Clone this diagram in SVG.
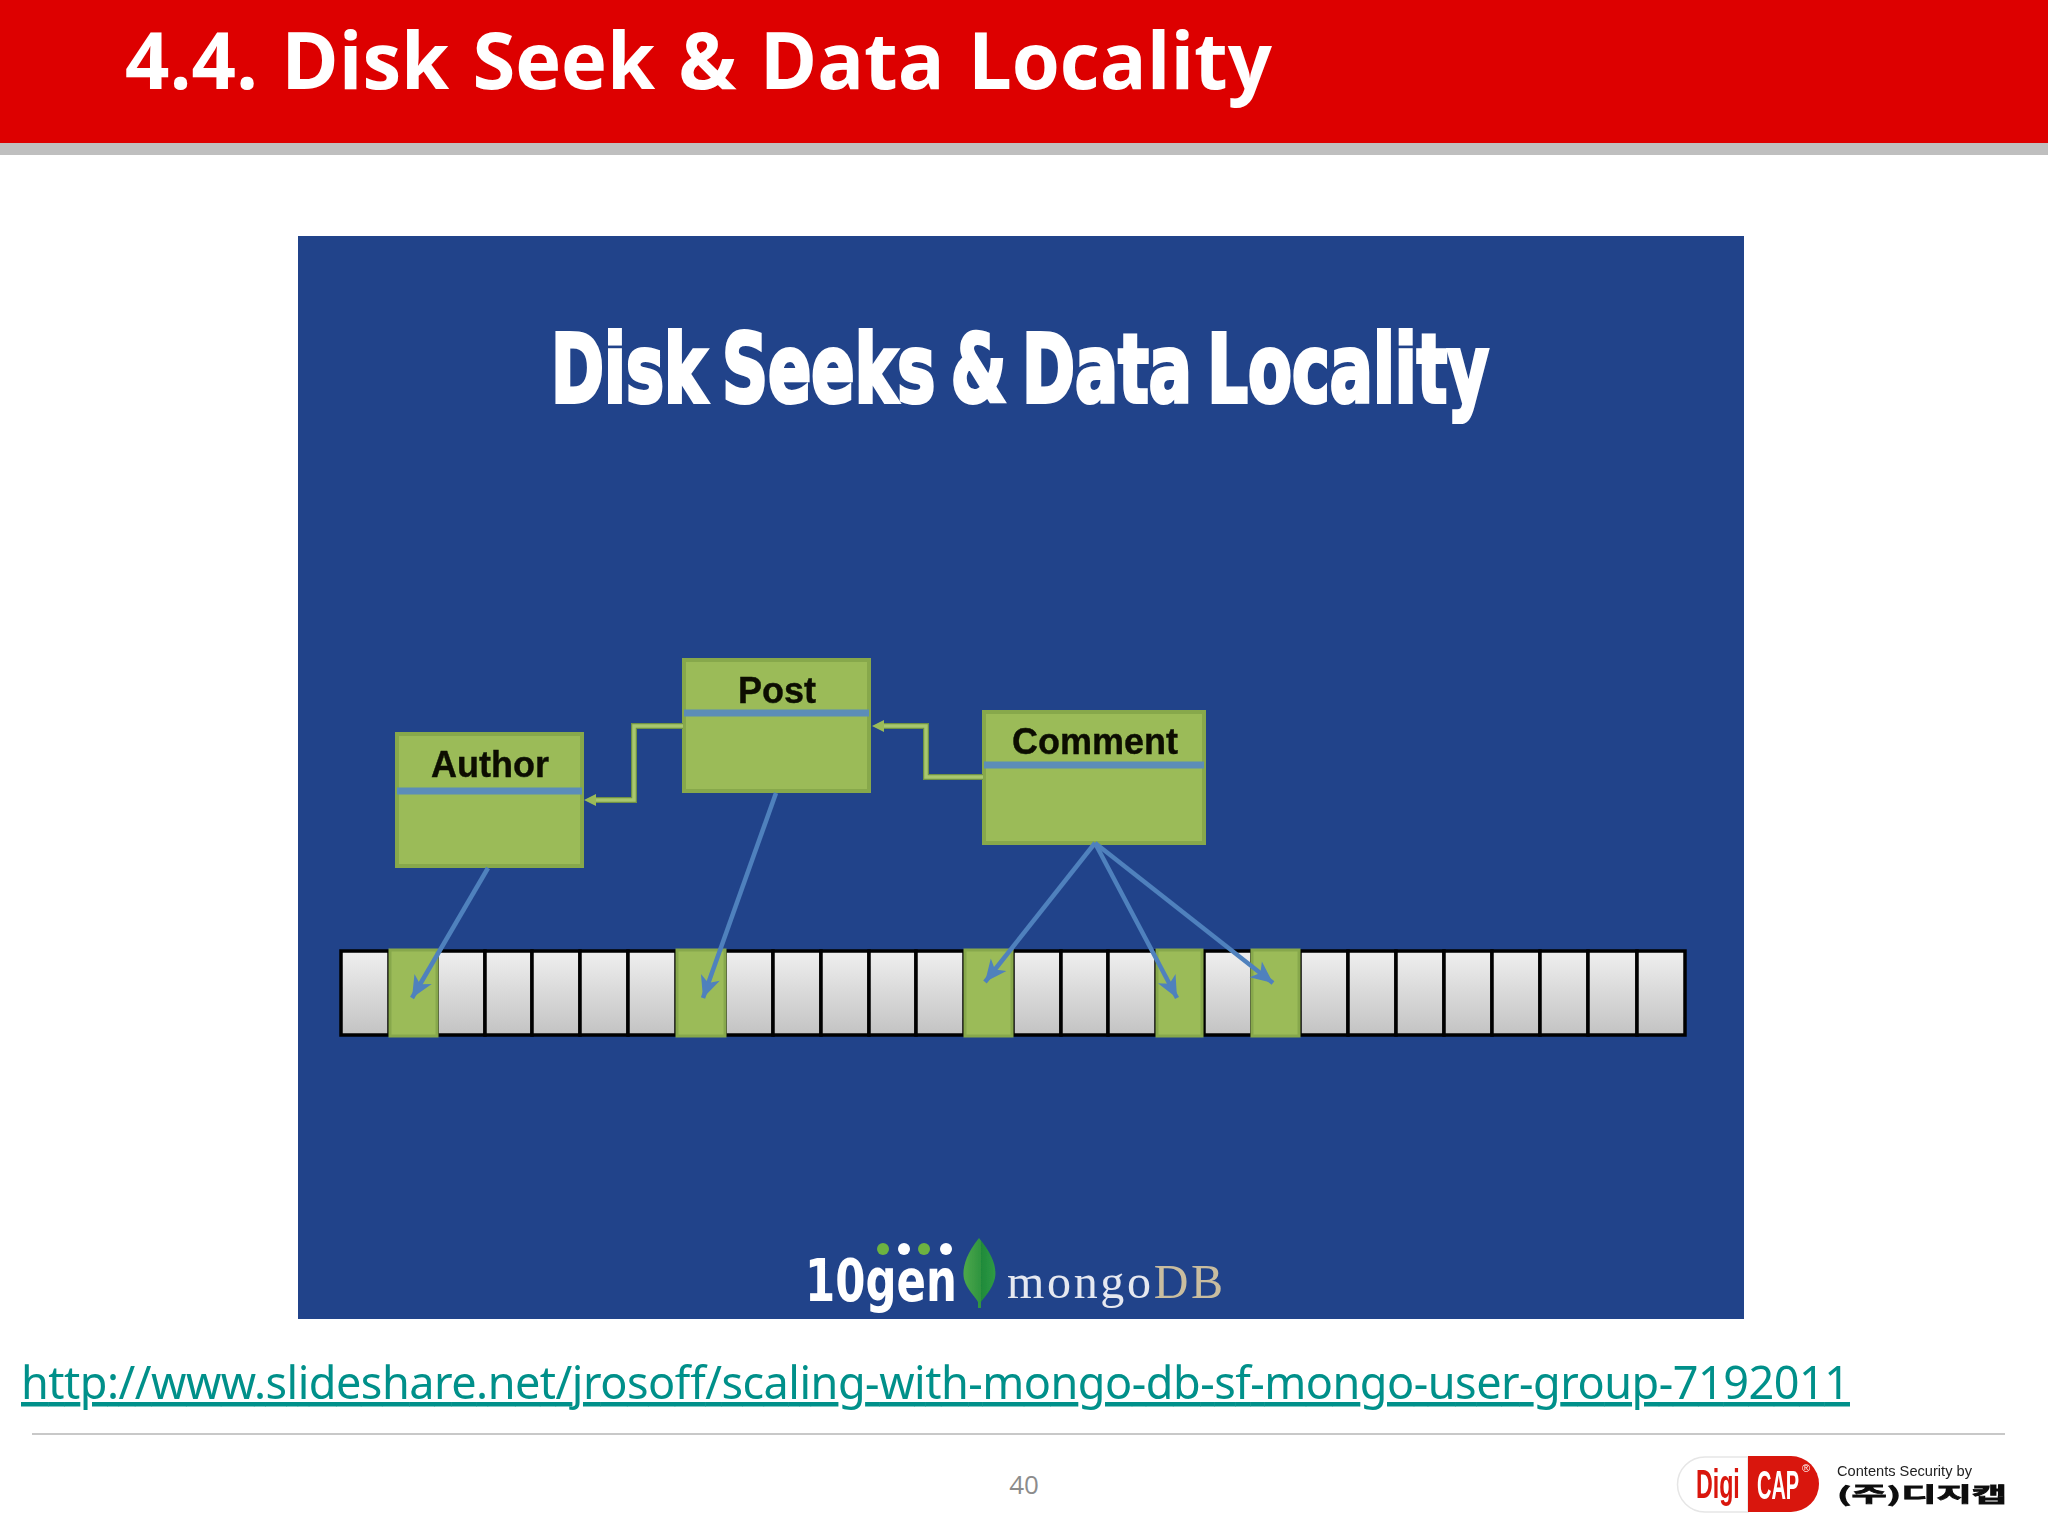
<svg xmlns="http://www.w3.org/2000/svg" width="2048" height="1536" viewBox="0 0 2048 1536">
<defs>
<linearGradient id="cg" x1="0" y1="0" x2="0" y2="1"><stop offset="0" stop-color="#efefef"/><stop offset="1" stop-color="#c3c3c3"/></linearGradient>
<linearGradient id="leaf" x1="0" y1="0" x2="1" y2="0"><stop offset="0" stop-color="#4da84a"/><stop offset="0.55" stop-color="#2f9440"/><stop offset="0.56" stop-color="#1f8a3a"/><stop offset="1" stop-color="#2f9a45"/></linearGradient>
<filter id="soft" filterUnits="userSpaceOnUse" x="0" y="0" width="2048" height="1536"><feGaussianBlur stdDeviation="0.5"/></filter>
<marker id="ba" markerUnits="userSpaceOnUse" markerWidth="30" markerHeight="30" refX="24" refY="13" orient="auto"><path d="M2 3 L24 13 L2 23 L8 13 Z" fill="#4f81bd"/></marker>
</defs>
<style>
.box{fill:#9bbb59;stroke:#87a84c;stroke-width:4}
.div{stroke:#5b8db8;stroke-width:7}
.lbl{font-family:"Liberation Sans",Arial,sans-serif;font-weight:bold;font-size:36px;fill:#0a0f05;stroke:#0a0f05;stroke-width:0.400;text-anchor:middle}
.cell{fill:url(#cg);stroke:#000;stroke-width:3.500}
.gcell{fill:#9bbb59;stroke:#87a84c;stroke-width:3}
.blue{fill:none;stroke:#4f81bd;stroke-width:4.500;marker-end:url(#ba)}
.gd{fill:none;stroke:#6f9345;stroke-width:6}
.gl{fill:none;stroke:#a9c76e;stroke-width:3.500}
.soft{filter:url(#soft)}
</style>
<rect width="2048" height="1536" fill="#ffffff"/>
<g id="header">
<rect x="0" y="0" width="2048" height="143" fill="#dd0000"/>
<rect x="0" y="143" width="2048" height="12" fill="#bfbfbf"/>
<text class="soft" x="125" y="89" font-family="'Open Sans','Noto Sans',sans-serif" font-weight="700" font-size="78" fill="#ffffff" word-spacing="3" textLength="1147" lengthAdjust="spacingAndGlyphs">4.4. Disk Seek &amp; Data Locality</text>
</g>
<g id="panel">
<rect x="298" y="236" width="1446" height="1083" fill="#21438a"/>
<text class="soft" x="551" y="402" font-family="'DejaVu Sans',sans-serif" font-weight="bold" font-size="94" fill="#ffffff" stroke="#ffffff" stroke-width="4" word-spacing="-10" textLength="938" lengthAdjust="spacingAndGlyphs">Disk Seeks &amp; Data Locality</text>
</g>
<g id="cells" class="soft">
<rect class="cell" x="341" y="951" width="48" height="84"/><rect class="cell" x="437" y="951" width="48" height="84"/><rect class="cell" x="485" y="951" width="47" height="84"/><rect class="cell" x="532" y="951" width="48" height="84"/><rect class="cell" x="580" y="951" width="48" height="84"/><rect class="cell" x="628" y="951" width="48" height="84"/>
<rect class="cell" x="725" y="951" width="48" height="84"/><rect class="cell" x="773" y="951" width="48" height="84"/><rect class="cell" x="821" y="951" width="48" height="84"/><rect class="cell" x="869" y="951" width="47" height="84"/><rect class="cell" x="916" y="951" width="48" height="84"/>
<rect class="cell" x="1013" y="951" width="48" height="84"/><rect class="cell" x="1061" y="951" width="47" height="84"/><rect class="cell" x="1108" y="951" width="48" height="84"/>
<rect class="cell" x="1204" y="951" width="48" height="84"/>
<rect class="cell" x="1300" y="951" width="48" height="84"/><rect class="cell" x="1348" y="951" width="48" height="84"/><rect class="cell" x="1396" y="951" width="48" height="84"/><rect class="cell" x="1444" y="951" width="48" height="84"/><rect class="cell" x="1492" y="951" width="48" height="84"/><rect class="cell" x="1540" y="951" width="48" height="84"/><rect class="cell" x="1588" y="951" width="49" height="84"/><rect class="cell" x="1637" y="951" width="48" height="84"/>
<rect class="gcell" x="390" y="950" width="47" height="86"/><rect class="gcell" x="677" y="950" width="48" height="86"/><rect class="gcell" x="965" y="950" width="47" height="86"/><rect class="gcell" x="1157" y="950" width="45" height="86"/><rect class="gcell" x="1252" y="950" width="47" height="86"/>
</g>
<g id="author" class="soft"><rect class="box" x="397" y="734" width="185" height="132"/><line class="div" x1="397" y1="791" x2="582" y2="791"/><text class="lbl" x="490" y="777">Author</text></g>
<g id="post" class="soft"><rect class="box" x="684" y="660" width="185" height="131"/><line class="div" x1="684" y1="713" x2="869" y2="713"/><text class="lbl" x="777" y="703">Post</text></g>
<g id="comment" class="soft"><rect class="box" x="984" y="712" width="220" height="131"/><line class="div" x1="984" y1="765" x2="1204" y2="765"/><text class="lbl" x="1095" y="754">Comment</text></g>
<g id="connectors" class="soft">
<path class="gd" d="M683 726 H634 V800 H594"/><path class="gl" d="M683 726 H634 V800 H594"/>
<path d="M584 800 L596 794 V806 Z" fill="#9bbb59"/>
<path class="gd" d="M983 777 H926 V726 H882"/><path class="gl" d="M983 777 H926 V726 H882"/>
<path d="M872 726 L884 720 V732 Z" fill="#9bbb59"/>
<line class="blue" x1="488" y1="868" x2="412" y2="998"/>
<line class="blue" x1="776" y1="793" x2="703" y2="998"/>
<line class="blue" x1="1095" y1="843" x2="985" y2="982"/>
<line class="blue" x1="1095" y1="843" x2="1177" y2="998"/>
<line class="blue" x1="1095" y1="843" x2="1273" y2="983"/>
</g>
<g id="mongo-logo" class="soft">
<text x="805" y="1301" font-family="'DejaVu Sans',sans-serif" font-weight="bold" font-size="58" fill="#ffffff" textLength="152" lengthAdjust="spacingAndGlyphs">10gen</text>
<circle cx="883" cy="1249" r="6" fill="#6db33f"/><circle cx="904" cy="1249" r="6" fill="#ffffff"/><circle cx="924" cy="1249" r="6" fill="#6db33f"/><circle cx="946" cy="1249" r="6" fill="#ffffff"/>
<path d="M979 1238 C965 1255 962 1270 964 1279 C967 1290 975 1296 978 1302 L978 1308 L981 1308 L981 1302 C985 1296 992 1290 995 1278 C997 1266 992 1254 979 1238 Z" fill="url(#leaf)"/>
<text x="1007" y="1298" font-family="'Liberation Serif',serif" font-size="48" fill="#e6e8f0" textLength="216" lengthAdjust="spacing">mongo<tspan fill="#c9bd9f">DB</tspan></text>
</g>
<g id="footer">
<text class="soft" x="21" y="1399" font-family="'Noto Sans','Open Sans',sans-serif" font-size="45" fill="#00908a" text-decoration="underline" textLength="1829" lengthAdjust="spacing">http://www.slideshare.net/jrosoff/scaling-with-mongo-db-sf-mongo-user-group-7192011</text>
<line x1="32" y1="1434" x2="2005" y2="1434" stroke="#c8c8c8" stroke-width="2"/>
<text x="1024" y="1494" text-anchor="middle" font-family="'Open Sans','Noto Sans',sans-serif" font-size="26" fill="#8c8c8c">40</text>
</g>
<g id="digicap" class="soft">
<path d="M1748 1457 H1705 A27.500 27.500 0 0 0 1705 1512 H1748 Z" fill="#ffffff" stroke="#e6e6e6" stroke-width="1.500"/>
<path d="M1748 1456 H1791 A28 28 0 0 1 1791 1512 H1748 Z" fill="#d9140a"/>
<text transform="translate(1696 1498) scale(0.58 1)" font-family="'Liberation Sans',sans-serif" font-weight="bold" font-size="40" fill="#d9140a">Digi</text>
<text transform="translate(1757 1499) scale(0.5 1)" font-family="'Liberation Sans',sans-serif" font-weight="bold" font-size="40" fill="#ffffff">CAP</text>
<text x="1802" y="1472" font-family="'Liberation Sans',sans-serif" font-size="11" fill="#ffffff">®</text>
<text x="1837" y="1476" font-family="'Liberation Sans',sans-serif" font-size="15" fill="#222222" textLength="135" lengthAdjust="spacingAndGlyphs">Contents Security by</text>
<text x="1837" y="1502" font-family="'Noto Sans CJK KR',sans-serif" font-weight="bold" font-size="20" fill="#111111" stroke="#111111" stroke-width="0.800" textLength="170" lengthAdjust="spacingAndGlyphs">(주)디지캡</text>
</g>
</svg>
